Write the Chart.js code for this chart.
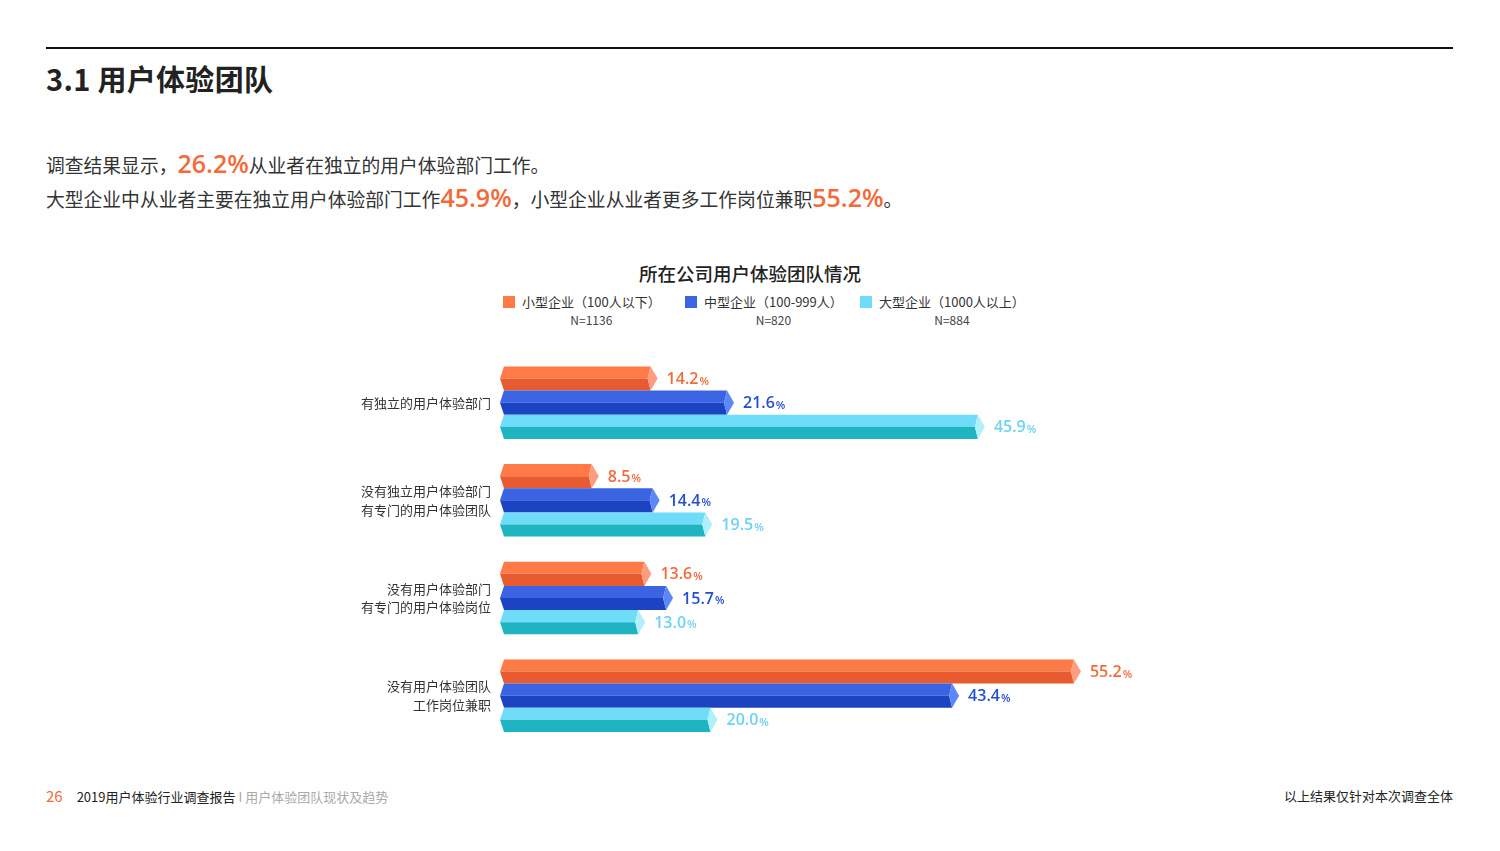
<!DOCTYPE html>
<html>
<head>
<meta charset="utf-8">
<script src="https://cdn.jsdelivr.net/npm/chart.js@4/dist/chart.umd.min.js"></script>
<style>
  body { margin: 0; width: 1500px; height: 851px; background: #fff; position: relative; overflow: hidden;
    font-family: "Noto Sans CJK SC", "Noto Sans", sans-serif; color: #222; }
  .abs { position: absolute; white-space: nowrap; }
  #rule { left: 46px; top: 47px; width: 1407px; height: 2px; background: #111; }
  #heading { left: 46px; top: 58px; font-size: 29px; font-weight: 700; line-height: 40px; letter-spacing: 0.3px; }
  .intro { left: 46px; font-size: 18.8px; color: #333; line-height: 30px; }
  .hl { color: #f26b3a; font-size: 25px; font-family: "Open Sans", sans-serif; font-weight: 600; }
  #ctitle { left: 0; width: 1500px; text-align: center; top: 260px; font-size: 18.5px; font-weight: 500; color: #222; }
  .leg { top: 292px; font-size: 13px; color: #333; }
  .leg .sq { display: inline-block; width: 12px; height: 12px; vertical-align: -1px; margin-right: 7px; }
  .leg .n { display: block; text-align: center; margin-left: 19px; font-size: 12px; margin-top: 0px; color: #444; }
  #wrap { left: 0; top: 330px; width: 1500px; height: 440px; }
  .foot { top: 786px; font-size: 13px; line-height: 20px; }
</style>
</head>
<body>
<div class="abs" id="rule"></div>
<div class="abs" id="heading">3.1 用户体验团队</div>
<div class="abs intro" style="top:148px">调查结果显示，<span class="hl">26.2%</span>从业者在独立的用户体验部门工作。</div>
<div class="abs intro" style="top:182px">大型企业中从业者主要在独立用户体验部门工作<span class="hl">45.9%</span>，小型企业从业者更多工作岗位兼职<span class="hl">55.2%</span>。</div>

<div class="abs" id="ctitle">所在公司用户体验团队情况</div>
<div id="legend"></div>

<div class="abs" id="wrap"><canvas id="myChart" width="1500" height="440"></canvas></div>

<div class="abs foot" style="left:46px"><span style="color:#f26b3a;font-size:15px;margin-right:14px">26</span>2019用户体验行业调查报告<span style="color:#aaa"> I 用户体验团队现状及趋势</span></div>
<div class="abs foot" style="right:47px;color:#222">以上结果仅针对本次调查全体</div>

<script>
//. Data
const categories = [
  ["有独立的用户体验部门"],
  ["没有独立用户体验部门", "有专门的用户体验团队"],
  ["没有用户体验部门", "有专门的用户体验岗位"],
  ["没有用户体验团队", "工作岗位兼职"]
];
const seriesNames = ["小型企业（100人以下）", "中型企业（100-999人）", "大型企业（1000人以上）"];
const sampleSizes = ["N=1136", "N=820", "N=884"];
const smallCompany = [14.2, 8.5, 13.6, 55.2];
const midCompany = [21.6, 14.4, 15.7, 43.4];
const largeCompany = [45.9, 19.5, 13.0, 20.0];

//. Colours: top face, bottom face, end cap, label
const palette = [
  { top: "#ff7a47", bottom: "#e85a30", cap: "#ff9c80", label: "#f26b3a" },
  { top: "#3a64e2", bottom: "#1c44c2", cap: "#5b88f6", label: "#2450d0" },
  { top: "#6fdcfa", bottom: "#1fb4c2", cap: "#b2effd", label: "#6dd3f0" }
];

//. Legend built as html
const legendLeft = [503, 685, 860];
document.getElementById("legend").innerHTML = seriesNames.map((name, i) =>
  `<div class="abs leg" style="left:${legendLeft[i]}px"><span class="sq" style="background:${palette[i].top}"></span>${name}<span class="n">${sampleSizes[i]}</span></div>`
).join("");

//. Draw bars as 3D prisms with a point on the left and a cap on the right
const prismBars = {
  id: "prismBars",
  afterDatasetsDraw(chart) {
    const c = chart.ctx;
    chart.data.datasets.forEach((ds, di) => {
      const col = palette[di];
      chart.getDatasetMeta(di).data.forEach((el, i) => {
        const x0 = el.base, x1 = el.x, h = el.height;
        const top = el.y - h / 2, mid = el.y, bot = el.y + h / 2;
        // top half
        c.fillStyle = col.top;
        c.beginPath();
        c.moveTo(x0 - 4, mid); c.lineTo(x0, top); c.lineTo(x1, top); c.lineTo(x1 - 3, mid);
        c.closePath(); c.fill();
        // bottom half
        c.fillStyle = col.bottom;
        c.beginPath();
        c.moveTo(x0 - 4, mid); c.lineTo(x1 - 3, mid); c.lineTo(x1, bot); c.lineTo(x0, bot);
        c.closePath(); c.fill();
        // end cap
        c.fillStyle = col.cap;
        c.beginPath();
        c.moveTo(x1, top); c.lineTo(x1 + 7, mid); c.lineTo(x1, bot); c.lineTo(x1 - 3, mid);
        c.closePath(); c.fill();
        // value label
        const v = ds.data[i].toFixed(1);
        c.fillStyle = col.label;
        c.textBaseline = "middle";
        c.textAlign = "left";
        c.font = "600 16px 'Open Sans', sans-serif";
        const lx = x1 + 16;
        c.fillText(v, lx, mid + 1);
        const w = c.measureText(v).width;
        c.font = "600 11px 'Open Sans', sans-serif";
        c.fillText("%", lx + w + 1, mid + 3);
      });
    });
  }
};

const ctx = document.getElementById("myChart");
let myChart = new Chart(ctx, {
  type: "bar",
  data: {
    labels: categories,
    datasets: [
      { label: seriesNames[0], data: smallCompany },
      { label: seriesNames[1], data: midCompany },
      { label: seriesNames[2], data: largeCompany }
    ].map(d => Object.assign(d, { backgroundColor: "rgba(0,0,0,0)", borderWidth: 0 }))
  },
  options: {
    indexAxis: "y",
    responsive: false,
    animation: false,
    layout: { padding: { top: 21.5, bottom: 25.5, right: 170, left: 0 } },
    datasets: { bar: { barPercentage: 1, categoryPercentage: 0.742 } },
    plugins: { legend: { display: false }, tooltip: { enabled: false } },
    scales: {
      x: { display: false, min: 0, max: 80 },
      y: {
        grid: { display: false },
        border: { display: false },
        ticks: {
          color: "#333",
          padding: 5,
          font: { family: "'Noto Sans CJK SC'", size: 13, lineHeight: 1.45 }
        },
        afterFit(scale) { scale.width = 504; }
      }
    }
  },
  plugins: [prismBars]
});
</script>
</body>
</html>
